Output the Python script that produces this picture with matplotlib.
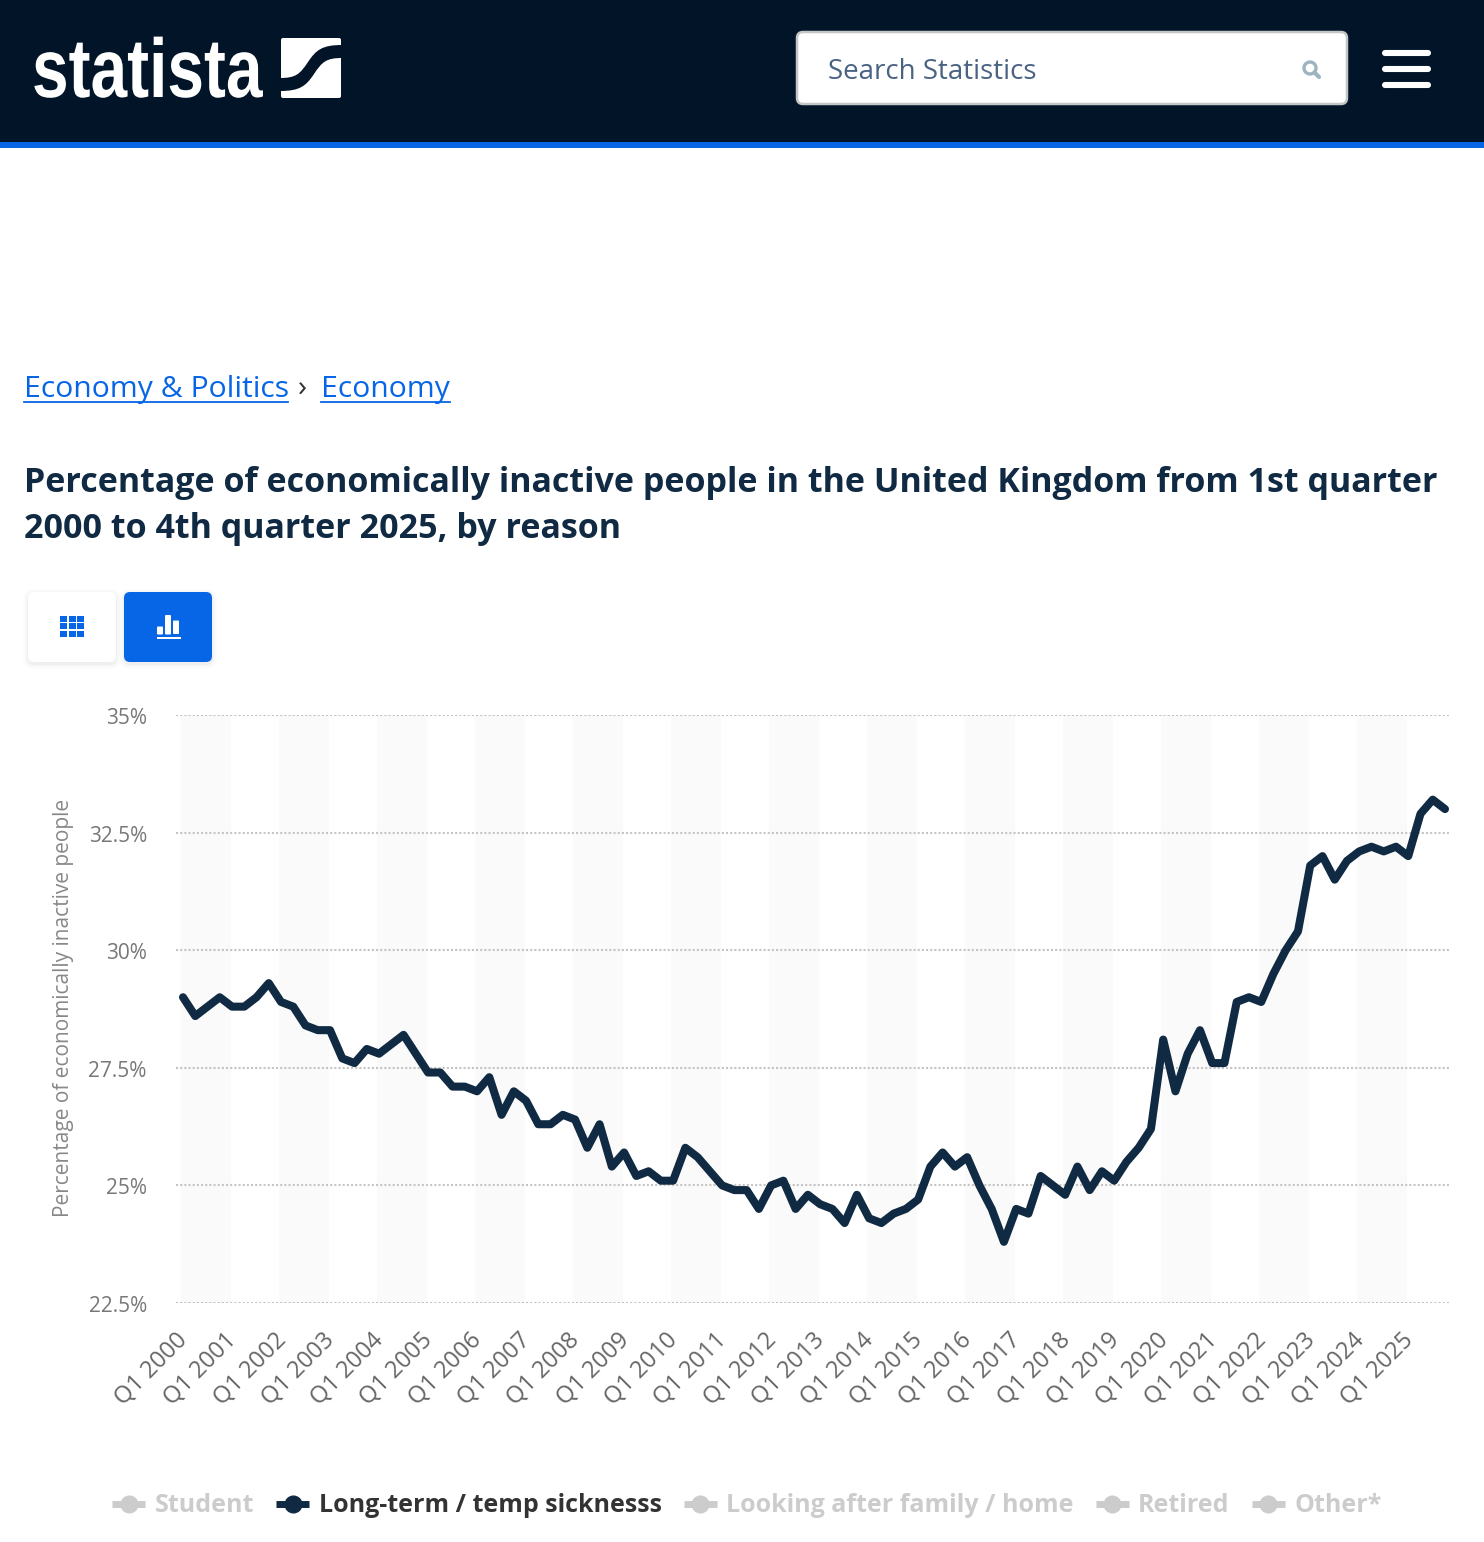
import matplotlib
matplotlib.use('Agg')
import matplotlib.pyplot as plt
from matplotlib.lines import Line2D
from matplotlib.patches import FancyBboxPatch, PathPatch, Rectangle, Circle
from matplotlib.path import Path
from matplotlib.patheffects import AbstractPathEffect
from matplotlib.transforms import Affine2D, ScaledTranslation

plt.rcParams['font.family'] = ['Open Sans', 'DejaVu Sans']

# share of inactive people, long-term / temp sickness, Q1 2000 .. Q4 2025
sickness = [
    29.0, 28.6, 28.8, 29.0, 28.8, 28.8, 29.0, 29.3,
    28.9, 28.8, 28.4, 28.3, 28.3, 27.7, 27.6, 27.9,
    27.8, 28.0, 28.2, 27.8, 27.4, 27.4, 27.1, 27.1,
    27.0, 27.3, 26.5, 27.0, 26.8, 26.3, 26.3, 26.5,
    26.4, 25.8, 26.3, 25.4, 25.7, 25.2, 25.3, 25.1,
    25.1, 25.8, 25.6, 25.3, 25.0, 24.9, 24.9, 24.5,
    25.0, 25.1, 24.5, 24.8, 24.6, 24.5, 24.2, 24.8,
    24.3, 24.2, 24.4, 24.5, 24.7, 25.4, 25.7, 25.4,
    25.6, 25.0, 24.5, 23.8, 24.5, 24.4, 25.2, 25.0,
    24.8, 25.4, 24.9, 25.3, 25.1, 25.5, 25.8, 26.2,
    28.1, 27.0, 27.8, 28.3, 27.6, 27.6, 28.9, 29.0,
    28.9, 29.5, 30.0, 30.4, 31.8, 32.0, 31.5, 31.9,
    32.1, 32.2, 32.1, 32.2, 32.0, 32.9, 33.2, 33.0,
]
years = list(range(2000, 2026))
year_labels = ['Q1 %d' % y for y in years]
y_ticks = [22.5, 25, 27.5, 30, 32.5, 35]
y_labels = ['22.5%', '25%', '27.5%', '30%', '32.5%', '35%']
legend_names = ['Student', 'Long-term / temp sicknesss', 'Looking after family / home', 'Retired', 'Other*']
legend_active = [False, True, False, False, False]

W, H = 1484, 1542
NAVY = '#011428'
BLUE = '#0666e5'
INK = '#0f2a42'

fig = plt.figure(figsize=(W / 100, H / 100), dpi=100)

# page furniture, in pixel coordinates
bg = fig.add_axes([0, 0, 1, 1], zorder=0)
bg.set_xlim(0, W)
bg.set_ylim(H, 0)
bg.axis('off')


def rbox(x0, y0, x1, y1, r, **kw):
    p = FancyBboxPatch((x0 + r, y0 + r), x1 - x0 - 2 * r, y1 - y0 - 2 * r,
                       boxstyle='round,pad=%g,rounding_size=%g' % (r, r), **kw)
    bg.add_patch(p)
    return p


# no narrow font is installed, so squeeze the wordmark sideways
class Squeeze(AbstractPathEffect):
    def __init__(self, x0, sx):
        super().__init__()
        self.x0 = x0
        self.sx = sx

    def draw_path(self, renderer, gc, tpath, affine, rgbFace=None):
        squeeze = Affine2D().translate(-self.x0, 0).scale(self.sx, 1).translate(self.x0, 0)
        renderer.draw_path(gc, tpath, affine + squeeze, rgbFace)


bg.add_patch(Rectangle((0, 0), W, 142, fc=NAVY, lw=0))
bg.add_patch(Rectangle((0, 142), W, 6, fc=BLUE, lw=0))

# logo
logo = bg.text(32, 97, 'statista', color='white', fontsize=60, fontweight='bold',
               family=['Liberation Sans', 'DejaVu Sans'], va='baseline', ha='left')
logo.set_path_effects([Squeeze(32, 0.79)])
rbox(281, 38, 341, 98, 2, fc='white', lw=0)
swoosh = Path(
    [(342, 45), (322, 45), (316, 50), (308, 62), (300, 74), (296, 78), (280, 78),
     (280, 91), (300, 91), (306, 86), (314, 74), (322, 62), (326, 58), (342, 58), (342, 45)],
    [Path.MOVETO, Path.CURVE4, Path.CURVE4, Path.CURVE4, Path.CURVE4, Path.CURVE4, Path.CURVE4,
     Path.LINETO, Path.CURVE4, Path.CURVE4, Path.CURVE4, Path.CURVE4, Path.CURVE4, Path.CURVE4, Path.CLOSEPOLY])
bg.add_patch(PathPatch(swoosh, fc=NAVY, lw=0))

# search box and menu
rbox(797, 32, 1347, 104, 6, fc='white', ec='#c3c6c9', lw=1.8)
bg.text(828, 79, 'Search Statistics', color='#4a6283', fontsize=20, va='baseline')
bg.add_patch(Circle((1310, 68), 6, fc='none', ec='#9db3c0', lw=2.4))
bg.plot([1314.5, 1319], [72.5, 77], color='#9db3c0', lw=3, solid_capstyle='round')
for yy in (52.5, 69, 85):
    bg.plot([1385, 1428], [yy, yy], color='white', lw=4.4, solid_capstyle='round')

# breadcrumb
bg.text(24, 397, 'Economy & Politics', color=BLUE, fontsize=21.7, va='baseline')
bg.plot([24, 288], [402, 402], color=BLUE, lw=1.3)
bg.text(298, 397, '›', color='#333333', fontsize=21.7, va='baseline')
bg.text(321, 397, 'Economy', color=BLUE, fontsize=21.7, va='baseline')
bg.plot([321, 450], [402, 402], color=BLUE, lw=1.3)

# title
bg.text(24, 492, 'Percentage of economically inactive people in the United Kingdom from 1st quarter',
        color=INK, fontsize=24.53, fontweight='bold', va='baseline')
bg.text(24, 538, '2000 to 4th quarter 2025, by reason',
        color=INK, fontsize=24.53, fontweight='bold', va='baseline')

# table / chart toggle
for grow, alpha in ((5, 0.012), (3, 0.02), (1, 0.03)):
    rbox(28 - grow, 592 - grow + 2, 116 + grow, 662 + grow + 2, 6 + grow, fc='black', alpha=alpha, lw=0)
    rbox(124 - grow, 592 - grow + 2, 212 + grow, 662 + grow + 2, 6 + grow, fc='black', alpha=alpha, lw=0)
rbox(28, 592, 116, 662, 6, fc='white', lw=0)
rbox(124, 592, 212, 662, 6, fc=BLUE, lw=0)
for cx in (60, 69, 77):
    for cy in (616, 623, 631):
        bg.add_patch(Rectangle((cx, cy), 7, 5.5, fc=BLUE, lw=0))
for bx, by, bh in ((157, 626.5, 8), (165, 615, 19.5), (173, 620.5, 13.5)):
    rbox(bx, by, bx + 6, by + bh, 1, fc='white', lw=0)
bg.add_patch(Rectangle((157, 637), 24, 2, fc='white', lw=0))

# the chart itself
left, right, top, bottom = 176, 1450, 715, 1303
step = (1445 - 183) / 103
ax = fig.add_axes([left / W, 1 - bottom / H, (right - left) / W, (bottom - top) / H], zorder=1)
ax.patch.set_alpha(0)
ax.set_xlim((left - 183) / step, (right - 183) / step)
ax.set_ylim(22.5, 35)
for s in ax.spines.values():
    s.set_visible(False)

x = list(range(len(sickness)))
tick_pos = [i * 4 for i in range(len(years))]
for i in tick_pos[::2]:
    ax.axvspan(i - 0.16, i + 3.92, color='#fafafa', lw=0, zorder=0)

ax.set_yticks(y_ticks, y_labels)
ax.set_xticks(tick_pos, year_labels)
ax.tick_params(axis='y', length=0, pad=21, labelsize=15, labelcolor='#777777')
ax.tick_params(axis='x', length=0, pad=18, labelsize=17, labelcolor='#666666')
shift_x = ScaledTranslation(-7 / 100, 0, fig.dpi_scale_trans)
for lab in ax.get_xticklabels():
    lab.set_rotation(45)
    lab.set_ha('right')
    lab.set_rotation_mode('anchor')
    lab.set_transform(lab.get_transform() + shift_x)
shift_y = ScaledTranslation(0, -1 / 100, fig.dpi_scale_trans)
for lab in ax.get_yticklabels():
    lab.set_transform(lab.get_transform() + shift_y)
ax.grid(axis='y', color='#c4c4c4', lw=1.5, linestyle=(0, (1, 1)), zorder=1)
ax.grid(axis='x', visible=False)
ax.set_axisbelow(True)

ax.plot(x, sickness, color=INK, lw=5.8, solid_joinstyle='round', solid_capstyle='round', zorder=3,
        clip_on=False)

ax.set_ylabel('Percentage of economically inactive people', fontsize=15, color='#888888')
ax.yaxis.set_label_coords((74 - left) / (right - left), 1 - (1008 - top) / (bottom - top))

# legend
handles = []
for active in legend_active:
    c = INK if active else '#cccccc'
    handles.append(Line2D([], [], color=c, lw=5, marker='o', ms=12, mfc=c, mec=c, solid_capstyle='butt'))
leg = fig.legend(handles, legend_names, loc='center', bbox_to_anchor=(747 / W, 1 - 1506 / H), ncols=5,
                 frameon=False, handlelength=1.32, handletextpad=0.38, columnspacing=0.88,
                 borderpad=0, borderaxespad=0, prop={'size': 18, 'weight': 'bold'})
for txt, active in zip(leg.get_texts(), legend_active):
    txt.set_color('#333333' if active else '#cccccc')

fig.savefig('out.png', dpi=100)
